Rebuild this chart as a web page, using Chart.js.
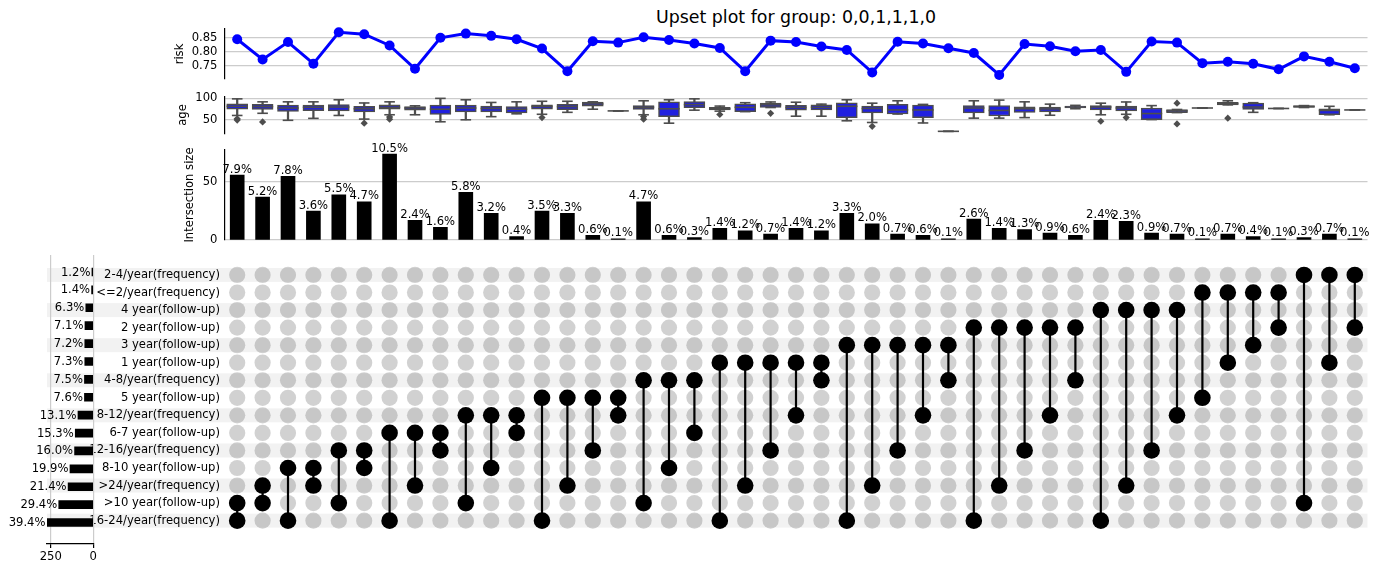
<!DOCTYPE html>
<html><head><meta charset="utf-8">
<script src="https://cdn.jsdelivr.net/npm/chart.js@4.4.1/dist/chart.umd.min.js"></script>
<style>
html,body{margin:0;padding:0;background:#fff;width:1384px;height:577px;overflow:hidden;}
canvas{position:absolute;}
#title{position:absolute;left:546px;width:500px;top:7px;text-align:center;font-family:"DejaVu Sans";font-size:17.4px;line-height:20px;color:#000;}
</style></head><body>
<div id="title">Upset plot for group: 0,0,1,1,1,0</div>
<canvas id="cRisk" width="1384" height="84" style="left:0;top:0"></canvas>
<canvas id="cAge" width="1384" height="62" style="left:0;top:84px"></canvas>
<canvas id="cInter" width="1384" height="118" style="left:0;top:126px"></canvas>
<canvas id="cMatrix" width="1384" height="300" style="left:0;top:250px"></canvas>
<canvas id="cTotals" width="100" height="327" style="left:0;top:250px"></canvas>
<script>
// ---------- data ----------
const rowNames = ['2-4/year(frequency)','<=2/year(frequency)','4 year(follow-up)','2 year(follow-up)','3 year(follow-up)','1 year(follow-up)','4-8/year(frequency)','5 year(follow-up)','8-12/year(frequency)','6-7 year(follow-up)','12-16/year(frequency)','8-10 year(follow-up)','>24/year(frequency)','>10 year(follow-up)','16-24/year(frequency)'];
const rowTotals = [8,10,44,49,50,50,52,52,90,106,110,137,148,203,272];
const rowTotalLabels = ['1.2%','1.4%','6.3%','7.1%','7.2%','7.3%','7.5%','7.6%','13.1%','15.3%','16.0%','19.9%','21.4%','29.4%','39.4%'];
const totalsTicks = [0,250];

const memberships = [[13,14],[12,13],[11,14],[11,12],[10,13],[10,11],[9,14],[9,12],[9,10],[8,13],[8,11],[8,9],[7,14],[7,12],[7,10],[7,8],[6,13],[6,11],[6,9],[5,14],[5,12],[5,10],[5,8],[5,6],[4,14],[4,12],[4,10],[4,8],[4,6],[3,14],[3,12],[3,10],[3,8],[3,6],[2,14],[2,12],[2,10],[2,8],[1,7],[1,5],[1,4],[1,3],[0,13],[0,5],[0,3]];
const intersectionSizes = [56,37,55,25,39,33,74,17,11,41,23,3,25,23,4,1,33,4,2,10,8,5,10,8,23,14,5,4,1,18,10,9,6,4,17,16,6,5,1,5,3,1,2,5,1];
const intersectionLabels = ['7.9%','5.2%','7.8%','3.6%','5.5%','4.7%','10.5%','2.4%','1.6%','5.8%','3.2%','0.4%','3.5%','3.3%','0.6%','0.1%','4.7%','0.6%','0.3%','1.4%','1.2%','0.7%','1.4%','1.2%','3.3%','2.0%','0.7%','0.6%','0.1%','2.6%','1.4%','1.3%','0.9%','0.6%','2.4%','2.3%','0.9%','0.7%','0.1%','0.7%','0.4%','0.1%','0.3%','0.7%','0.1%'];
const interTicks = [0,50];

const risk = [0.845,0.773,0.835,0.758,0.870,0.863,0.823,0.740,0.850,0.865,0.857,0.845,0.812,0.731,0.838,0.833,0.852,0.842,0.830,0.814,0.731,0.840,0.835,0.819,0.807,0.727,0.836,0.830,0.813,0.796,0.718,0.828,0.820,0.802,0.807,0.729,0.837,0.833,0.760,0.765,0.758,0.738,0.784,0.765,0.742];
const riskTicks = [0.75,0.80,0.85];

const ageMin    = [60.6,65.6,49.4,53.9,60.6,52.2,62.2,62.2,46,50.6,57.8,64.4,63.3,67.8,75,71.1,62.2,42.8,72.8,70.6,69.4,78.9,58.9,58.9,48.3,44.4,63.9,43.3,24,54.4,54.4,55.6,61.1,76.1,62.2,63.3,51.1,67.2,77.8,85,67.8,76.7,78.9,62.2,73.3];
const ageQ1     = [75,74.4,70,71.7,71,68.9,75,72.8,62.8,68.9,68.9,66.7,75,73.9,82.2,71.1,74.4,57.8,78.3,73.3,69.4,78.9,72.8,73.3,55.6,66.7,63.9,55.6,24,66.7,59.4,67.8,68.9,77.8,73.3,71.1,51.1,67.2,77.8,85,74.4,76.7,78.9,62.2,73.3];
const ageMedian = [81.7,81,77.8,79.4,80,76,79.4,77.8,75,77.8,76.7,75,81.1,81,87.2,71.1,79.4,76,85.6,76,79.4,85,78.9,79.4,81.7,76.7,73.3,73.3,24,77.8,72.2,76,75.6,80,80,77.8,65,71.1,77.8,87.8,80,76.7,81.1,72.2,73.3];
const ageQ3     = [87.2,86,84.4,84.4,85.6,81.7,85,81.1,84.4,84.4,82.2,81.1,85,86,91.7,71.1,83.3,92.2,92.8,79.4,87.2,88.9,83.9,85,90,82.2,86,84.4,24,83.3,83.3,80.6,80,82.2,83.3,82.2,77.8,74.4,77.8,90.6,88.9,76.7,83.3,75.6,73.3];
const ageMax    = [98.9,92,92,92,96.7,89.4,92,82.8,100,96.7,90.6,92,93.3,93.3,92,71.1,94.4,96.7,98.9,82.2,90,91.7,91.1,86.7,96.7,88.9,94.4,86.1,24,94.4,96,92,86.7,83.9,88.9,91.7,83.3,74.4,77.8,94.4,90,76.7,83.3,81.7,73.3];
const ageOutlierCol = [0,0,1,5,6,6,12,16,16,19,21,25,34,35,37,37,39];
const ageOutlierVal = [53,50,45.6,42.8,57,52,55.6,58,52,62.8,65.6,35.6,47.2,55.6,88.9,41.1,54.4];
const ageTicks = [50,100];

// ---------- common ----------
Chart.defaults.font.family = 'DejaVu Sans';
Chart.defaults.font.size = 11.6;
Chart.defaults.color = '#000';
Chart.defaults.animation = false;
Chart.defaults.plugins.legend.display = false;
Chart.defaults.plugins.tooltip.enabled = false;

const nCols = memberships.length;
function xScale(){ return {type:'linear', min:-0.5, max:nCols-0.5, display:false, offset:false, grid:{offset:false}}; }
const GRID = '#cccccc';
const BOXLINE = '#4d4d4d';
function noPad(s){ s.paddingTop = 0; s.paddingBottom = 0; s.paddingLeft = 0; s.paddingRight = 0; }
function yAxis(opts, width){
  return Object.assign({
    grid:{color:GRID, lineWidth:1.2, drawTicks:false},
    border:{display:true, color:'#000', width:1.2},
    ticks:{padding:7, autoSkip:false},
    afterFit:s=>{ s.width = width; noPad(s); }
  }, opts);
}

// ---------- risk ----------
new Chart(document.getElementById('cRisk'), {
  type:'line',
  data:{datasets:[{data:risk.map((v,i)=>({x:i,y:v})), borderColor:'#0000ff', backgroundColor:'#0000ff',
    borderWidth:3, pointRadius:5, pointBorderWidth:0, pointBackgroundColor:'#0000ff', clip:false, tension:0}]},
  options:{responsive:false, devicePixelRatio:1,
    layout:{padding:{left:173.3, right:16.5, top:29, bottom:3}},
    scales:{x:xScale(),
      y:yAxis({min:0.7036, max:0.8814,
        afterBuildTicks:s=>{s.ticks=riskTicks.map(v=>({value:v}));},
        ticks:{padding:7, autoSkip:false, callback:v=>Number(v).toFixed(2)},
        title:{display:true, text:'risk', padding:0}}, 51.2)}}
});

// ---------- age boxplots ----------
const idx = ageMin.map((_,i)=>i);
new Chart(document.getElementById('cAge'), {
  type:'bar',
  data:{datasets:[
    {type:'scatter', data:idx.map(i=>({x:i,y:ageMedian[i]})), pointStyle:'line', pointRadius:10.6,
      pointBorderColor:BOXLINE, pointBorderWidth:1.6, borderColor:BOXLINE, clip:false},
    {type:'scatter', data:idx.map(i=>({x:i,y:ageMin[i]})).concat(idx.map(i=>({x:i,y:ageMax[i]}))), pointStyle:'line', pointRadius:5.3,
      pointBorderColor:BOXLINE, pointBorderWidth:1.6, borderColor:BOXLINE, clip:false},
    {type:'scatter', data:ageOutlierCol.map((c,k)=>({x:c,y:ageOutlierVal[k]})), pointStyle:'rectRot', pointRadius:3.6,
      pointBackgroundColor:BOXLINE, pointBorderColor:BOXLINE, pointBorderWidth:0, clip:false},
    {data:idx.map(i=>({x:i,y:[ageQ1[i],ageQ3[i]]})), backgroundColor:'#2020df', borderColor:BOXLINE, borderWidth:1.5,
      borderSkipped:false, barThickness:21, grouped:false, clip:false},
    {data:idx.map(i=>({x:i,y:[ageMin[i],ageMax[i]]})), backgroundColor:BOXLINE, borderWidth:0,
      barThickness:1.6, grouped:false, clip:false}
  ]},
  options:{responsive:false, devicePixelRatio:1,
    layout:{padding:{left:176.3, right:16.5, top:5, bottom:5}},
    scales:{x:xScale(),
      y:yAxis({min:18.3, max:105,
        afterBuildTicks:s=>{s.ticks=ageTicks.map(v=>({value:v}));},
        title:{display:true, text:'age', padding:0}}, 48.2)}}
});

// ---------- intersection size ----------
const interLabelPlugin = {id:'interLabels', afterDatasetsDraw(chart){
  const ctx = chart.ctx, meta = chart.getDatasetMeta(0);
  ctx.save(); ctx.font = '11.6px "DejaVu Sans"'; ctx.fillStyle = '#000';
  ctx.textAlign = 'center'; ctx.textBaseline = 'alphabetic';
  meta.data.forEach((el,i)=>{ ctx.fillText(intersectionLabels[i], el.x, el.y - 2.5); });
  ctx.restore();
}};
new Chart(document.getElementById('cInter'), {
  type:'bar',
  data:{datasets:[{data:intersectionSizes.map((v,i)=>({x:i,y:v})), backgroundColor:'#000', barThickness:14, borderWidth:0}]},
  options:{responsive:false, devicePixelRatio:1,
    layout:{padding:{left:183, right:16.5, top:24, bottom:4}},
    scales:{x:xScale(),
      y:yAxis({min:0, max:77.6,
        afterBuildTicks:s=>{s.ticks=interTicks.map(v=>({value:v}));},
        title:{display:true, text:'Intersection size', padding:0}}, 41.5)}},
  plugins:[interLabelPlugin]
});

// ---------- matrix ----------
const shadingPlugin = {id:'shading', beforeDraw(chart){
  const ctx = chart.ctx, y = chart.scales.y, area = chart.chartArea;
  const step = Math.abs(y.getPixelForValue(1) - y.getPixelForValue(0));
  ctx.save(); ctx.fillStyle = 'rgba(0,0,0,0.05)';
  for (let r = 0; r < rowNames.length; r += 2) {
    const py = y.getPixelForValue(r);
    ctx.fillRect(47, py - 0.4*step, area.right - 47, 0.8*step);
  }
  ctx.restore();
}};
const activePts = [], inactivePts = [];
memberships.forEach((m,c)=>{
  rowNames.forEach((_,r)=>{ (m.includes(r) ? activePts : inactivePts).push({x:c,y:r}); });
});
const lineSets = memberships.map((m,c)=>({type:'line', data:[{x:c,y:Math.min(...m)},{x:c,y:Math.max(...m)}],
  borderColor:'#000', borderWidth:2.2, pointRadius:0, clip:false}));
function rowScale(){ return {type:'linear', reverse:true, min:-0.95, max:15.2}; }
new Chart(document.getElementById('cMatrix'), {
  type:'scatter',
  data:{datasets:[
    {data:activePts, pointRadius:8.3, pointBackgroundColor:'#000', pointBorderWidth:0, clip:false}
  ].concat(lineSets).concat([
    {data:inactivePts, pointRadius:8.1, pointBackgroundColor:'rgba(0,0,0,0.18)', pointBorderWidth:0, clip:false}
  ])},
  options:{responsive:false, devicePixelRatio:1,
    layout:{padding:{left:0, right:16.5, top:5, bottom:6}},
    scales:{x:xScale(),
      y:Object.assign(rowScale(), {
        afterBuildTicks:s=>{s.ticks=rowNames.map((_,i)=>({value:i}));},
        afterFit:s=>{s.width=224.5; noPad(s);},
        grid:{display:false, drawTicks:false}, border:{display:false},
        ticks:{padding:4.5, autoSkip:false, callback:v=>rowNames[v]}})}},
  plugins:[shadingPlugin]
});

// ---------- totals ----------
const totalsLabelPlugin = {id:'totalsLabels', afterDatasetsDraw(chart){
  const ctx = chart.ctx, meta = chart.getDatasetMeta(0);
  ctx.save(); ctx.font = '11.6px "DejaVu Sans"'; ctx.fillStyle = '#000';
  ctx.textAlign = 'right'; ctx.textBaseline = 'middle';
  meta.data.forEach((el,i)=>{ ctx.fillText(rowTotalLabels[i], Math.max(el.x, chart.chartArea.left) - 1.5, el.y + 0.5); });
  ctx.restore();
}};
new Chart(document.getElementById('cTotals'), {
  type:'bar',
  data:{datasets:[{data:rowTotals.map((v,i)=>({x:v,y:i})), backgroundColor:'#000', barThickness:8, borderWidth:0}]},
  options:{responsive:false, devicePixelRatio:1, indexAxis:'y',
    layout:{padding:{left:47, right:6.7, top:5, bottom:0}},
    scales:{
      x:{type:'linear', reverse:true, min:0, max:272,
        afterBuildTicks:s=>{s.ticks=totalsTicks.map(v=>({value:v}));},
        afterFit:s=>{s.height=33; noPad(s);},
        grid:{color:GRID, lineWidth:1.2, drawTicks:true, tickLength:4, tickColor:'#000', tickWidth:1.2},
        border:{display:true, color:'#000', width:1.2},
        ticks:{padding:2.5, autoSkip:false, maxRotation:0}},
      y:Object.assign(rowScale(), {display:false, offset:false, grid:{offset:false}})}},
  plugins:[totalsLabelPlugin]
});
</script>
</body></html>
